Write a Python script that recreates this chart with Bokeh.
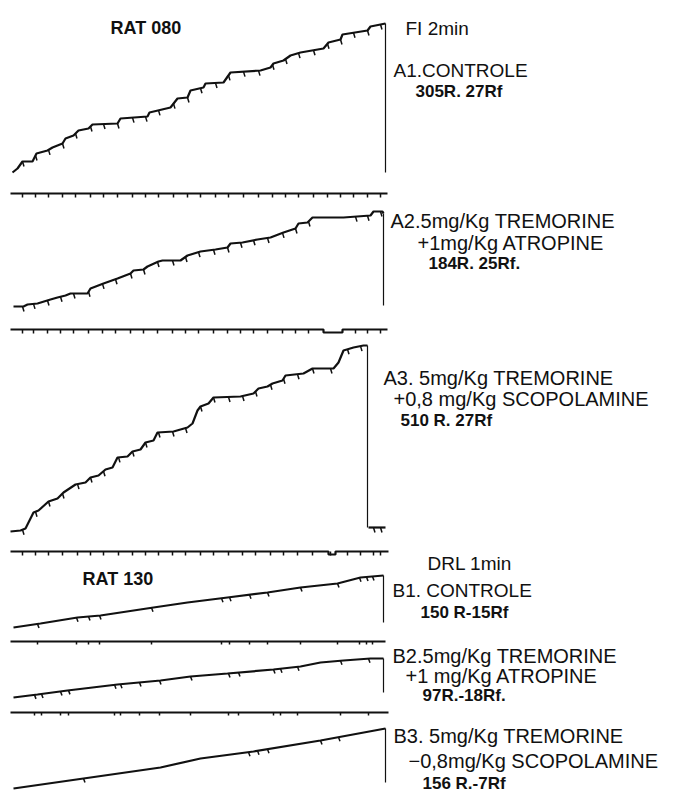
import numpy as np
from bokeh.plotting import figure
from bokeh.models import Range1d
from bokeh.embed import file_html
from bokeh.resources import INLINE
from bokeh.core.properties import value

# ---------------- DATA (read from the cumulative records) ----------------
# t = pen travel along the record (time), c = cumulative pen height (responses)
a1_t = [2, 7, 12, 22, 26, 37, 42, 52, 55, 63, 68, 78, 82, 107, 110, 137, 139, 160, 167, 177,
        180, 193, 195, 213, 220, 250, 260, 263, 273, 280, 290, 313, 318, 330, 332, 357, 360, 375]
a1_c = [0, 4, 11, 11, 19, 22, 25, 29, 34, 37, 42, 44, 48, 49, 54, 56, 60, 65, 74, 75,
        82, 85, 89, 90, 100, 102, 105, 109, 112, 117, 120, 124, 130, 133, 138, 142, 146, 149]
a1_rf = [12, 25, 38, 52, 65, 80, 93, 107, 122, 135, 148, 163, 177, 190, 205, 218, 233, 248,
         262, 275, 288, 303, 317, 330, 343, 357, 370]

a2_t = [3, 13, 17, 27, 40, 47, 55, 60, 77, 80, 93, 107, 120, 123, 133, 137, 148, 152, 170, 177,
        190, 205, 217, 220, 232, 247, 260, 273, 285, 288, 297, 302, 333, 360, 363, 372, 373]
a2_c = [0, 0, 2, 3, 7, 9, 11, 13, 13, 18, 23, 28, 33, 36, 37, 40, 45, 46, 46, 51,
        55, 57, 59, 63, 64, 67, 69, 74, 78, 83, 84, 89, 89, 91, 95, 95, 93]
a2_rf = [12, 23, 37, 50, 63, 78, 92, 105, 120, 133, 147, 162, 175, 188, 203, 217, 230, 243,
         257, 272, 285, 298, 345, 357, 370]
a2_event_t = [0, 313, 313, 332, 332, 377]
a2_event_d = [0, 0, 3, 3, 0, 0]

a3_t = [0, 10, 15, 23, 28, 38, 47, 53, 65, 75, 80, 88, 95, 102, 107, 117, 122, 130, 135, 143,
        147, 163, 177, 182, 187, 190, 198, 203, 230, 243, 248, 257, 262, 272, 275, 293, 302,
        323, 328, 333, 343, 353, 357]
a3_c = [0, 1, 3, 19, 21, 30, 33, 39, 47, 49, 54, 56, 62, 64, 74, 75, 80, 82, 89, 91,
        99, 100, 104, 108, 121, 125, 128, 134, 135, 138, 143, 145, 148, 151, 156, 158, 163,
        163, 169, 181, 184, 186, 186]
a3_post_t = [358, 375]
a3_post_c = [4, 4]
a3_rf = [12, 25, 38, 52, 67, 80, 93, 108, 122, 135, 148, 162, 175, 190, 203, 218, 232, 245,
         260, 273, 287, 302, 320, 337, 350, 363, 370]
a3_event_t = [0, 318, 318, 325, 325, 378]
a3_event_d = [0, 0, 3, 3, 0, 0]

b1_t = [3, 30, 67, 90, 143, 177, 217, 257, 290, 327, 350, 373]
b1_c = [0, 4, 10, 12, 20, 25, 30, 35, 40, 44, 50, 52]
b1_rf = [27, 66, 78, 89, 141, 211, 219, 239, 257, 290, 327, 349, 356, 362]

b2_t = [3, 27, 57, 107, 150, 180, 217, 263, 290, 310, 333, 360, 373]
b2_c = [0, 3, 7, 13, 17, 21, 24, 28, 31, 35, 37, 39, 39]
b2_rf = [24, 31, 50, 58, 104, 110, 129, 149, 180, 218, 228, 263, 270, 287, 330, 358]

b3_t = [3, 73, 150, 190, 243, 310, 375]
b3_c = [0, 10, 21, 30, 37, 48, 60]
b3_rf = [73, 238, 247, 257, 310, 328]

labels_a1 = ["A1.CONTROLE", "305R. 27Rf"]
labels_a2 = ["A2.5mg/Kg TREMORINE", "+1mg/Kg ATROPINE", "184R. 25Rf."]
labels_a3 = ["A3. 5mg/Kg TREMORINE", "+0,8 mg/Kg  SCOPOLAMINE", "510  R. 27Rf"]
labels_b1 = ["B1. CONTROLE", "150 R-15Rf"]
labels_b2 = ["B2.5mg/Kg  TREMORINE", "+1 mg/Kg ATROPINE", "97R.-18Rf."]
labels_b3 = ["B3. 5mg/Kg TREMORINE", "\u22120,8mg/Kg SCOPOLAMINE", "156 R.-7Rf"]
header_a = ["RAT 080", "FI 2min"]
header_b = ["RAT 130", "DRL 1min"]

# ---------------- LAYOUT ----------------
X0 = 10
W, H = 670, 793
p = figure(width=W, height=H, output_backend="svg", toolbar_location=None,
           x_range=Range1d(0, W), y_range=Range1d(H, 0), min_border=0)
p.axis.visible = False
p.xgrid.visible = False
p.ygrid.visible = False
p.outline_line_color = None
p.background_fill_color = "white"

INK = "#111111"


def record(t, c, rf, base, reset_to, event_y=None, ev_t=None, ev_d=None,
           post_t=None, post_c=None, pip_len=5, tick_len=4, ev_end=377):
    t = np.asarray(t, float)
    c = np.asarray(c, float)
    xs = X0 + t
    ys = base - c
    p.line(xs, ys, line_color=INK, line_width=2.2)
    # reset stroke
    p.line([xs[-1], xs[-1]], [ys[-1], base - reset_to], line_color=INK, line_width=1.2)
    rf = np.asarray(rf, float)
    on_curve = rf[rf <= t[-1]]
    py = base - np.interp(on_curve, t, c)
    p.segment(x0=X0 + on_curve, y0=py, x1=X0 + on_curve + 1.5, y1=py + pip_len,
              line_color=INK, line_width=1.5)
    if post_t is not None:
        p.line(X0 + np.asarray(post_t, float), base - np.asarray(post_c, float),
               line_color=INK, line_width=2.2)
        after = rf[rf > t[-1]]
        pyy = base - np.interp(after, post_t, post_c)
        p.segment(x0=X0 + after, y0=pyy, x1=X0 + after + 1.5, y1=pyy + pip_len,
                  line_color=INK, line_width=1.5)
    if event_y is not None:
        if ev_t is None:
            ev_t, ev_d = [0, ev_end], [0, 0]
        p.line(X0 + np.asarray(ev_t, float), event_y + np.asarray(ev_d, float),
               line_color=INK, line_width=2.2)
        p.segment(x0=X0 + rf, y0=event_y, x1=X0 + rf, y1=event_y + tick_len,
                  line_color=INK, line_width=1.5)


record(a1_t, a1_c, a1_rf, base=172, reset_to=0, event_y=193)
record(a2_t, a2_c, a2_rf, base=306, reset_to=1, event_y=329, ev_t=a2_event_t, ev_d=a2_event_d)
record(a3_t, a3_c, a3_rf, base=531, reset_to=4, event_y=551, ev_t=a3_event_t, ev_d=a3_event_d,
       post_t=a3_post_t, post_c=a3_post_c)
record(b1_t, b1_c, b1_rf, base=627, reset_to=5, event_y=641, pip_len=4, tick_len=3, ev_end=375)
record(b2_t, b2_c, b2_rf, base=697, reset_to=5, event_y=712, pip_len=4, tick_len=3, ev_end=378)
record(b3_t, b3_c, b3_rf, base=788, reset_to=6, pip_len=4)

REG = "Liberation Sans"


def label(x, y, txt, size, bold=False):
    p.text(x=[x], y=[y], text=[txt], text_font=value(REG), text_font_size=value(f"{size}px"),
           text_font_style="bold" if bold else "normal", text_baseline="middle",
           text_align="left", text_color=INK)


label(110, 27, header_a[0], 18, True)
label(405, 28, header_a[1], 19)
label(393, 70, labels_a1[0], 19)
label(415, 91, labels_a1[1], 17, True)

label(390, 220, labels_a2[0], 20)
label(417, 242, labels_a2[1], 20)
label(428, 263, labels_a2[2], 17, True)

label(383, 377, labels_a3[0], 20)
label(393, 398, labels_a3[1], 20)
label(400, 420, labels_a3[2], 17, True)

label(427, 563, header_b[1], 19)
label(82, 578, header_b[0], 18, True)
label(392, 590, labels_b1[0], 19)
label(420, 612, labels_b1[1], 17, True)

label(392, 655, labels_b2[0], 20)
label(405, 675, labels_b2[1], 20)
label(422, 695, labels_b2[2], 17, True)

label(393, 735, labels_b3[0], 20)
label(408, 760, labels_b3[1], 20)
label(422, 783, labels_b3[2], 17, True)

open("out.html", "w").write(file_html(p, INLINE))
